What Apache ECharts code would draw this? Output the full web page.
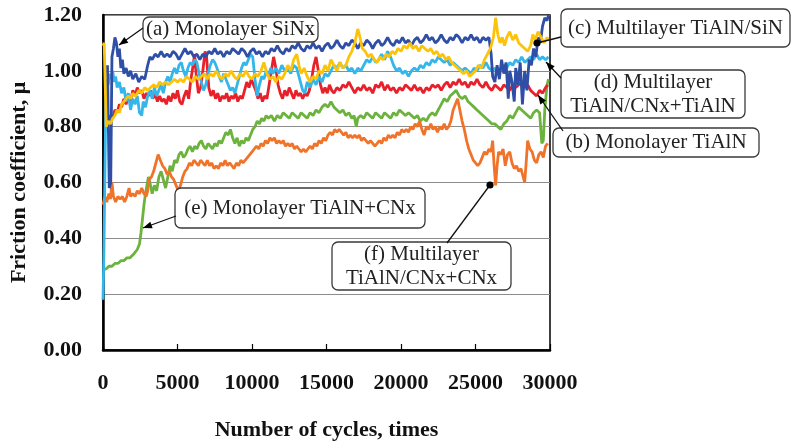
<!DOCTYPE html>
<html><head><meta charset="utf-8">
<script src="https://cdn.jsdelivr.net/npm/echarts@6/dist/echarts.min.js"></script>
<style>html,body{margin:0;padding:0;background:#fff}#c{width:792px;height:446px}</style>
</head><body><div id="c"></div>
<script>
const xTicks = [0, 5000, 10000, 15000, 20000, 25000, 30000];
const yTicks = [0, 0.2, 0.4, 0.6, 0.8, 1.0, 1.2];
const seriesNames = ['(a) Monolayer SiNx','(b) Monolayer TiAlN','(c) Multilayer TiAlN/SiN','(d) Multilayer TiAlN/CNx+TiAlN','(e) Monolayer TiAlN+CNx','(f) Multilayer TiAlN/CNx+CNx'];

const aSiNx = [[300,1.02],[420,0.58],[520,0.60],[600,1.05],[700,1.08],[800,1.12],[900,1.10],[1000,1.05],[1100,1.08],[1200,1.01],[1300,1.04],[1400,0.99],[1550,1.01],[1700,0.98],[1850,1.00],[2000,0.97],[2200,0.99],[2400,0.96],[2600,0.98],[2800,0.97],[3000,1.02],[3150,1.05],[3300,1.04],[3500,1.06],[3700,1.05],[3900,1.07],[4100,1.05],[4300,1.06],[4500,1.05],[4700,1.07],[4900,1.06],[5100,1.04],[5300,1.06],[5500,1.08],[5700,1.06],[5900,1.07],[6100,1.05],[6300,1.06],[6500,1.04],[6700,1.06],[6900,1.05],[7100,1.07],[7300,1.06],[7500,1.08],[7700,1.06],[7900,1.07],[8100,1.05],[8300,1.07],[8500,1.06],[8700,1.08],[8900,1.07],[9100,1.06],[9300,1.08],[9500,1.07],[9700,1.05],[9900,1.07],[10100,1.08],[10300,1.06],[10500,1.07],[10700,1.05],[10900,1.07],[11100,1.06],[11300,1.08],[11500,1.07],[11700,1.09],[11900,1.07],[12100,1.06],[12300,1.08],[12500,1.07],[12700,1.09],[12900,1.08],[13100,1.10],[13300,1.08],[13500,1.07],[13700,1.09],[13900,1.08],[14100,1.10],[14300,1.08],[14500,1.09],[14700,1.07],[14900,1.09],[15100,1.10],[15300,1.08],[15500,1.09],[15700,1.11],[15900,1.09],[16100,1.08],[16300,1.10],[16500,1.09],[16700,1.11],[16900,1.10],[17100,1.08],[17300,1.10],[17500,1.09],[17700,1.11],[17900,1.10],[18100,1.08],[18300,1.10],[18500,1.11],[18700,1.09],[18900,1.10],[19100,1.12],[19300,1.10],[19500,1.09],[19700,1.11],[19900,1.10],[20100,1.12],[20300,1.10],[20500,1.11],[20700,1.09],[20900,1.11],[21100,1.12],[21300,1.10],[21500,1.11],[21700,1.13],[21900,1.11],[22100,1.12],[22300,1.10],[22500,1.11],[22700,1.13],[22900,1.11],[23100,1.10],[23300,1.12],[23500,1.11],[23700,1.13],[23900,1.12],[24100,1.10],[24300,1.12],[24500,1.11],[24700,1.13],[24900,1.11],[25100,1.12],[25300,1.10],[25500,1.12],[25700,1.11],[25900,1.12],[26050,1.06],[26150,0.98],[26300,0.96],[26450,1.02],[26600,0.97],[26750,1.04],[26900,0.99],[27050,1.03],[27200,0.90],[27300,1.00],[27450,0.96],[27600,0.89],[27700,1.01],[27850,0.95],[28000,1.03],[28150,0.88],[28300,1.00],[28450,0.93],[28600,1.04],[28750,1.02],[28900,1.08],[29050,1.05],[29200,1.12],[29350,1.10],[29500,1.16],[29650,1.19],[29800,1.18],[29900,1.20]];

const bTiAlN = [[200,0.86],[350,0.82],[500,0.84],[650,0.83],[800,0.86],[950,0.85],[1100,0.88],[1250,0.87],[1400,0.90],[1550,0.88],[1700,0.91],[1850,0.89],[2000,0.93],[2150,0.91],[2300,0.94],[2450,0.92],[2600,0.93],[2750,0.90],[2900,0.92],[3050,0.91],[3200,0.93],[3350,0.90],[3500,0.92],[3650,0.89],[3800,0.91],[3950,0.89],[4100,0.90],[4250,0.88],[4400,0.91],[4550,0.89],[4700,0.92],[4850,0.90],[5000,0.93],[5150,0.89],[5300,0.88],[5450,0.91],[5600,0.93],[5750,0.90],[5900,0.97],[6050,1.02],[6150,1.06],[6250,0.99],[6400,0.92],[6550,0.94],[6700,1.00],[6850,1.07],[6950,1.05],[7100,0.94],[7250,0.91],[7400,0.93],[7550,0.90],[7700,0.92],[7850,0.89],[8000,0.91],[8150,0.90],[8300,0.92],[8450,0.89],[8600,0.91],[8750,0.90],[8900,0.92],[9050,0.89],[9200,0.91],[9350,0.90],[9500,0.93],[9650,0.96],[9800,0.94],[9950,0.97],[10100,0.95],[10250,0.93],[10400,0.90],[10550,0.92],[10700,0.89],[10850,0.91],[11000,0.90],[11150,0.95],[11300,1.00],[11450,1.05],[11600,1.01],[11750,0.95],[11900,0.92],[12050,0.90],[12200,0.93],[12350,0.91],[12500,0.94],[12650,0.92],[12800,0.90],[12950,0.93],[13100,0.91],[13250,0.92],[13400,0.90],[13550,0.92],[13700,0.91],[13850,0.93],[14000,0.97],[14150,1.02],[14300,1.05],[14450,1.00],[14600,0.95],[14750,0.92],[14900,0.94],[15050,0.92],[15200,0.95],[15350,0.93],[15500,0.92],[15700,0.94],[15900,0.93],[16100,0.95],[16300,0.94],[16500,0.96],[16700,0.94],[16900,0.92],[17100,0.94],[17300,0.93],[17500,0.95],[17700,0.93],[17900,0.94],[18100,0.92],[18300,0.95],[18500,0.94],[18700,0.96],[18900,0.93],[19100,0.95],[19300,0.93],[19500,0.94],[19700,0.92],[19900,0.94],[20100,0.93],[20300,0.95],[20500,0.94],[20700,0.93],[20900,0.95],[21100,0.93],[21300,0.94],[21500,0.92],[21700,0.94],[21900,0.93],[22100,0.95],[22300,0.94],[22500,0.95],[22700,0.93],[22900,0.95],[23100,0.96],[23300,0.94],[23500,0.96],[23700,0.95],[23900,0.97],[24100,0.95],[24300,0.96],[24500,0.94],[24700,0.96],[24900,0.95],[25100,0.97],[25300,0.95],[25500,0.94],[25700,0.96],[25900,0.94],[26100,0.93],[26300,0.95],[26500,0.94],[26700,0.93],[26900,0.95],[27100,0.94],[27300,0.93],[27500,0.95],[27700,0.94],[27900,0.95],[28100,0.96],[28300,0.94],[28500,0.95],[28700,0.93],[28900,0.92],[29100,0.91],[29300,0.93],[29500,0.92],[29700,0.94],[29850,0.95]];

const cTiAlNSiN = [[0,1.09],[80,1.10],[150,0.95],[220,0.80],[350,0.82],[500,0.81],[650,0.83],[800,0.84],[950,0.86],[1100,0.85],[1250,0.88],[1400,0.89],[1550,0.90],[1700,0.91],[1850,0.90],[2000,0.92],[2200,0.91],[2400,0.93],[2600,0.92],[2800,0.94],[3000,0.93],[3200,0.94],[3400,0.95],[3600,0.94],[3800,0.96],[4000,0.95],[4200,0.96],[4400,0.95],[4600,0.96],[4800,0.97],[5000,0.96],[5200,0.97],[5400,0.96],[5600,0.98],[5800,0.97],[6000,0.96],[6200,0.98],[6400,0.97],[6600,0.98],[6800,0.99],[7000,0.97],[7200,0.99],[7400,0.98],[7600,1.00],[7800,0.98],[8000,0.97],[8200,0.99],[8400,0.98],[8600,1.00],[8800,0.98],[9000,0.97],[9200,0.99],[9400,0.98],[9600,1.00],[9800,0.98],[10000,0.97],[10200,0.99],[10400,0.98],[10600,1.00],[10800,1.03],[11000,0.99],[11200,0.97],[11400,0.98],[11600,0.96],[11800,0.98],[12000,0.97],[12200,0.99],[12400,1.02],[12600,1.00],[12800,1.04],[13000,1.06],[13150,1.02],[13300,0.99],[13500,1.01],[13700,0.98],[13900,0.96],[14100,0.98],[14300,0.97],[14500,1.00],[14700,0.99],[14900,1.02],[15100,1.00],[15300,1.04],[15500,1.02],[15700,1.00],[15900,1.03],[16100,1.01],[16300,1.02],[16500,1.05],[16700,1.07],[16900,1.10],[17100,1.15],[17250,1.12],[17400,1.08],[17600,1.07],[17800,1.05],[18000,1.06],[18200,1.04],[18400,1.03],[18600,1.05],[18800,1.04],[19000,1.06],[19200,1.05],[19400,1.07],[19600,1.06],[19800,1.08],[20000,1.07],[20200,1.09],[20400,1.08],[20600,1.10],[20800,1.08],[21000,1.09],[21200,1.07],[21400,1.09],[21600,1.08],[21800,1.07],[22000,1.08],[22200,1.06],[22400,1.07],[22600,1.05],[22800,1.06],[23000,1.04],[23200,1.05],[23400,1.03],[23600,1.02],[23800,1.01],[24000,1.00],[24200,0.99],[24400,1.00],[24600,0.98],[24800,0.99],[25000,1.00],[25200,1.02],[25400,1.01],[25600,1.04],[25800,1.06],[26000,1.08],[26200,1.12],[26350,1.19],[26500,1.13],[26650,1.10],[26800,1.12],[26950,1.09],[27100,1.12],[27300,1.14],[27500,1.11],[27700,1.13],[27900,1.10],[28100,1.09],[28300,1.08],[28500,1.07],[28700,1.09],[28850,1.13],[29000,1.11],[29200,1.14],[29400,1.12],[29600,1.10],[29800,1.12],[29900,1.11]];

const dTiAlNCNxTiAlN = [[0,0.18],[60,0.35],[120,0.60],[180,0.85],[250,0.97],[350,0.95],[450,0.99],[550,0.97],[650,1.00],[750,0.96],[850,0.98],[950,0.94],[1100,0.96],[1250,0.92],[1400,0.94],[1550,0.89],[1700,0.92],[1850,0.86],[2000,0.90],[2150,0.88],[2300,0.91],[2450,0.85],[2600,0.84],[2700,0.89],[2850,0.87],[3000,0.91],[3150,0.93],[3300,0.90],[3450,0.94],[3600,0.91],[3750,0.93],[3900,0.95],[4050,0.92],[4200,0.96],[4350,0.98],[4500,0.96],[4650,0.99],[4800,1.01],[4950,0.99],[5100,1.02],[5250,1.03],[5400,1.00],[5550,0.98],[5700,1.01],[5850,1.03],[6000,1.02],[6150,1.04],[6300,1.03],[6450,0.99],[6600,0.96],[6750,0.93],[6900,0.95],[7050,0.99],[7200,1.02],[7350,1.04],[7500,1.03],[7650,1.01],[7800,0.98],[7950,0.96],[8100,0.99],[8250,0.97],[8400,0.95],[8550,0.93],[8700,0.94],[8850,0.92],[9000,0.95],[9150,0.98],[9300,1.01],[9450,1.03],[9600,1.02],[9750,1.04],[9900,1.06],[10050,1.05],[10200,0.97],[10350,0.91],[10500,0.95],[10650,0.98],[10800,0.97],[10950,1.00],[11100,0.98],[11250,1.01],[11400,0.99],[11600,1.01],[11800,0.99],[12000,1.02],[12200,1.00],[12400,1.01],[12600,0.99],[12800,1.02],[13000,1.01],[13200,0.97],[13400,0.93],[13550,0.92],[13700,0.96],[13900,0.94],[14100,0.97],[14300,0.95],[14500,0.98],[14700,0.96],[14900,0.99],[15100,0.98],[15300,1.00],[15500,1.02],[15700,1.01],[15900,1.03],[16100,1.01],[16300,1.02],[16500,1.00],[16700,1.01],[16900,0.99],[17100,1.01],[17300,1.00],[17500,1.02],[17700,1.04],[17900,1.03],[18100,1.05],[18300,1.03],[18500,1.04],[18700,1.06],[18900,1.04],[19100,1.07],[19300,1.05],[19500,1.02],[19700,1.00],[19900,1.01],[20100,0.99],[20300,1.00],[20500,0.98],[20700,1.00],[20900,1.01],[21100,1.00],[21300,1.02],[21500,1.01],[21700,1.03],[21900,1.02],[22100,1.04],[22300,1.03],[22500,1.05],[22700,1.04],[22900,1.03],[23100,1.04],[23300,1.02],[23500,1.03],[23700,1.02],[23900,1.01],[24100,1.00],[24300,1.01],[24500,1.00],[24700,0.99],[24900,1.01],[25100,1.00],[25300,1.02],[25500,1.01],[25700,1.03],[25900,1.01],[26100,1.00],[26300,1.01],[26500,0.99],[26700,1.01],[26900,1.02],[27100,1.01],[27300,1.03],[27500,1.02],[27700,1.04],[27900,1.03],[28100,1.05],[28300,1.03],[28500,1.04],[28700,1.05],[28900,1.04],[29100,1.06],[29300,1.04],[29500,1.05],[29700,1.04],[29900,1.05]];

const eTiAlNCNx = [[0,0.29],[200,0.29],[400,0.30],[600,0.30],[800,0.31],[1000,0.31],[1200,0.32],[1400,0.32],[1600,0.33],[1800,0.33],[2000,0.34],[2150,0.35],[2300,0.36],[2450,0.38],[2550,0.42],[2650,0.47],[2750,0.52],[2850,0.56],[2950,0.59],[3050,0.62],[3150,0.60],[3300,0.56],[3450,0.59],[3600,0.57],[3750,0.62],[3900,0.64],[4050,0.61],[4200,0.58],[4350,0.62],[4500,0.66],[4650,0.64],[4800,0.68],[4950,0.67],[5100,0.70],[5250,0.71],[5400,0.69],[5550,0.70],[5700,0.72],[5850,0.73],[6000,0.71],[6150,0.73],[6300,0.72],[6450,0.74],[6600,0.75],[6750,0.73],[6900,0.72],[7050,0.74],[7200,0.73],[7350,0.72],[7500,0.74],[7650,0.73],[7800,0.75],[7950,0.74],[8100,0.76],[8250,0.78],[8400,0.77],[8550,0.79],[8700,0.76],[8850,0.74],[9000,0.76],[9150,0.73],[9300,0.75],[9450,0.74],[9600,0.76],[9750,0.75],[9900,0.77],[10050,0.79],[10200,0.80],[10350,0.82],[10500,0.81],[10650,0.83],[10800,0.82],[10950,0.84],[11100,0.83],[11300,0.84],[11500,0.82],[11700,0.84],[11900,0.83],[12100,0.85],[12300,0.84],[12500,0.83],[12700,0.85],[12900,0.84],[13100,0.83],[13300,0.85],[13500,0.84],[13700,0.83],[13900,0.85],[14100,0.84],[14300,0.86],[14500,0.85],[14700,0.87],[14900,0.88],[15100,0.87],[15300,0.89],[15500,0.87],[15700,0.86],[15900,0.85],[16100,0.86],[16300,0.84],[16500,0.85],[16700,0.83],[16850,0.84],[17000,0.80],[17100,0.83],[17300,0.84],[17500,0.83],[17700,0.85],[17900,0.84],[18100,0.83],[18300,0.85],[18500,0.84],[18700,0.83],[18900,0.85],[19100,0.84],[19300,0.83],[19500,0.85],[19700,0.84],[19900,0.86],[20100,0.85],[20300,0.84],[20500,0.85],[20700,0.84],[20900,0.83],[21100,0.84],[21300,0.82],[21500,0.83],[21700,0.82],[21900,0.84],[22100,0.85],[22300,0.84],[22500,0.86],[22700,0.88],[22900,0.90],[23100,0.89],[23300,0.91],[23500,0.92],[23700,0.93],[23900,0.91],[24100,0.90],[24300,0.91],[24500,0.89],[24700,0.88],[24900,0.87],[25100,0.86],[25300,0.85],[25500,0.84],[25700,0.83],[25900,0.82],[26100,0.81],[26300,0.81],[26500,0.80],[26700,0.79],[26900,0.81],[27100,0.82],[27300,0.84],[27500,0.83],[27700,0.85],[27900,0.87],[28100,0.86],[28300,0.85],[28500,0.84],[28700,0.83],[28900,0.85],[29100,0.86],[29300,0.85],[29450,0.74],[29550,0.75],[29650,0.86],[29800,0.95],[29900,0.97]];

const fTiAlNCNxCNx = [[0,0.52],[120,0.55],[250,0.53],[400,0.56],[500,0.54],[600,0.60],[700,0.55],[850,0.53],[1000,0.55],[1150,0.54],[1300,0.55],[1450,0.53],[1600,0.55],[1750,0.58],[1850,0.55],[2000,0.56],[2150,0.55],[2300,0.57],[2450,0.56],[2600,0.58],[2750,0.56],[2900,0.55],[3000,0.57],[3100,0.61],[3250,0.62],[3400,0.64],[3550,0.67],[3700,0.70],[3850,0.68],[4000,0.66],[4150,0.65],[4300,0.63],[4450,0.64],[4600,0.62],[4750,0.61],[4900,0.59],[5050,0.57],[5200,0.59],[5350,0.62],[5500,0.64],[5650,0.65],[5800,0.67],[5950,0.66],[6100,0.68],[6250,0.67],[6400,0.66],[6550,0.68],[6700,0.67],[6850,0.66],[7000,0.68],[7150,0.66],[7300,0.67],[7450,0.65],[7600,0.66],[7750,0.65],[7900,0.67],[8050,0.66],[8200,0.68],[8350,0.66],[8500,0.67],[8650,0.66],[8800,0.65],[8950,0.67],[9100,0.66],[9250,0.68],[9400,0.67],[9550,0.68],[9700,0.69],[9850,0.70],[10000,0.71],[10150,0.72],[10300,0.73],[10450,0.72],[10600,0.74],[10750,0.73],[10900,0.75],[11050,0.74],[11200,0.76],[11350,0.75],[11500,0.76],[11650,0.74],[11800,0.75],[11950,0.74],[12100,0.75],[12250,0.73],[12400,0.74],[12550,0.73],[12700,0.74],[12850,0.72],[13000,0.73],[13150,0.72],[13300,0.71],[13450,0.72],[13600,0.71],[13750,0.72],[13900,0.73],[14050,0.72],[14200,0.74],[14350,0.73],[14500,0.75],[14650,0.74],[14800,0.76],[14950,0.75],[15100,0.77],[15250,0.78],[15400,0.77],[15550,0.79],[15700,0.78],[15850,0.79],[16000,0.78],[16150,0.77],[16300,0.78],[16450,0.76],[16600,0.77],[16750,0.76],[16900,0.77],[17050,0.76],[17200,0.77],[17350,0.75],[17500,0.76],[17650,0.75],[17800,0.74],[17950,0.75],[18100,0.74],[18250,0.73],[18400,0.74],[18550,0.75],[18700,0.74],[18850,0.76],[19000,0.75],[19150,0.77],[19300,0.76],[19450,0.77],[19600,0.76],[19750,0.78],[19900,0.77],[20050,0.79],[20200,0.78],[20350,0.79],[20500,0.78],[20650,0.80],[20800,0.79],[20950,0.81],[21100,0.80],[21250,0.82],[21400,0.79],[21550,0.77],[21700,0.80],[21850,0.79],[22000,0.81],[22150,0.79],[22300,0.80],[22450,0.78],[22600,0.80],[22750,0.79],[22900,0.81],[23050,0.79],[23200,0.80],[23350,0.82],[23500,0.86],[23650,0.88],[23800,0.90],[23950,0.86],[24100,0.82],[24250,0.79],[24400,0.75],[24550,0.72],[24700,0.70],[24850,0.68],[25000,0.67],[25150,0.66],[25300,0.67],[25450,0.69],[25600,0.71],[25750,0.70],[25900,0.72],[26050,0.71],[26150,0.75],[26250,0.66],[26350,0.59],[26450,0.66],[26550,0.71],[26700,0.70],[26850,0.72],[27000,0.66],[27150,0.70],[27300,0.71],[27450,0.67],[27600,0.65],[27750,0.66],[27900,0.64],[28050,0.65],[28200,0.62],[28300,0.60],[28400,0.67],[28500,0.75],[28650,0.72],[28800,0.71],[28950,0.68],[29100,0.67],[29250,0.70],[29400,0.71],[29550,0.69],[29700,0.73],[29850,0.74]];

const SERIF = "'Liberation Serif','Times New Roman',serif";
const chart = echarts.init(document.getElementById('c'), null, {renderer: 'canvas'});

function mk(name, data, color) {
  return {name: name, type: 'line', data: data, showSymbol: false, symbol: 'none',
    lineStyle: {color: color, width: 2.8}, itemStyle: {color: color}, silent: true, animation: false};
}

// callout boxes and leader lines (annotation positions in pixels)
function box(x, y, w, h, lines) {
  const els = [{type: 'rect', shape: {x: x, y: y, width: w, height: h, r: 6}, style: {fill: '#fff', stroke: '#3a3a3a', lineWidth: 1.3}, z: 100}];
  lines.forEach((t, i) => {
    const ty = y + h / 2 + (i - (lines.length - 1) / 2) * 24;
    els.push({type: 'text', x: x + w / 2, y: ty, z: 101,
      style: {text: t, font: '21px ' + SERIF, fill: '#222', textAlign: 'center', textVerticalAlign: 'middle'}});
  });
  return els;
}
function arrow(x1, y1, x2, y2, head) {
  const els = [{type: 'line', shape: {x1: x1, y1: y1, x2: x2, y2: y2}, style: {stroke: '#111', lineWidth: 1.3}, z: 102}];
  if (head === 'dot') {
    els.push({type: 'circle', shape: {cx: x2, cy: y2, r: 3.6}, style: {fill: '#000'}, z: 103});
  } else {
    const ang = Math.atan2(y2 - y1, x2 - x1), L = 9, W = 3.5;
    const bx = x2 - L * Math.cos(ang), by = y2 - L * Math.sin(ang);
    const px = -Math.sin(ang) * W, py = Math.cos(ang) * W;
    els.push({type: 'polygon', shape: {points: [[x2, y2], [bx + px, by + py], [bx - px, by - py]]}, style: {fill: '#000'}, z: 103});
  }
  return els;
}

const graphics = [].concat(
  arrow(143, 28, 119, 45, 'arrow'),
  box(143, 17, 175, 25, ['(a) Monolayer SiNx']),
  arrow(561, 37, 537, 43, 'dot'),
  box(561, 9, 229, 38, ['(c) Multilayer TiAlN/SiN']),
  arrow(561, 78, 546, 62, 'arrow'),
  box(561, 70, 184, 48, ['(d) Multilayer', 'TiAlN/CNx+TiAlN']),
  arrow(563, 131, 538, 95, 'arrow'),
  box(553, 128, 206, 29, ['(b) Monolayer TiAlN']),
  arrow(176, 216, 143, 228, 'arrow'),
  box(175, 188, 250, 40, ['(e) Monolayer TiAlN+CNx']),
  arrow(447, 243, 490, 185, 'dot'),
  box(332, 242, 179, 48, ['(f) Multilayer', 'TiAlN/CNx+CNx'])
);

chart.setOption({
  animation: false,
  backgroundColor: '#fff',
  grid: {left: 101, top: 15, right: 242, bottom: 96, show: true, borderColor: '#000', borderWidth: 1.5, backgroundColor: 'transparent'},
  xAxis: {
    type: 'value', min: xTicks[0], max: xTicks[xTicks.length - 1], interval: 5000,
    name: 'Number of cycles, times', nameLocation: 'middle', nameGap: 69,
    nameTextStyle: {fontFamily: SERIF, fontWeight: 'bold', fontSize: 22, color: '#111'},
    axisLine: {show: true, onZero: false, lineStyle: {color: '#000', width: 2.5}},
    axisTick: {show: true, inside: true, length: 6, lineStyle: {color: '#000', width: 1.2}},
    axisLabel: {fontFamily: SERIF, fontWeight: 'bold', fontSize: 22, color: '#111', margin: 22, formatter: v => String(v)},
    splitLine: {show: false}
  },
  yAxis: {
    type: 'value', min: yTicks[0], max: yTicks[yTicks.length - 1], interval: 0.2,
    name: 'Friction coefficient, μ', nameLocation: 'middle', nameGap: 73, nameRotate: 90,
    nameTextStyle: {fontFamily: SERIF, fontWeight: 'bold', fontSize: 22, color: '#111'},
    axisLine: {show: true, onZero: false, lineStyle: {color: '#000', width: 2.5}},
    axisTick: {show: false},
    axisLabel: {fontFamily: SERIF, fontWeight: 'bold', fontSize: 22, color: '#111', margin: 21, formatter: v => v.toFixed(2)},
    splitLine: {show: true, lineStyle: {color: '#8c8c8c', width: 1}}
  },
  series: [
    mk(seriesNames[4], eTiAlNCNx, '#6cb33e'),
    mk(seriesNames[5], fTiAlNCNxCNx, '#f0732a'),
    mk(seriesNames[1], bTiAlN, '#e8202a'),
    mk(seriesNames[3], dTiAlNCNxTiAlN, '#35b6ea'),
    mk(seriesNames[0], aSiNx, '#2f4ea6'),
    mk(seriesNames[2], cTiAlNSiN, '#fcc30b')
  ],
  graphic: graphics
});
</script></body></html>
